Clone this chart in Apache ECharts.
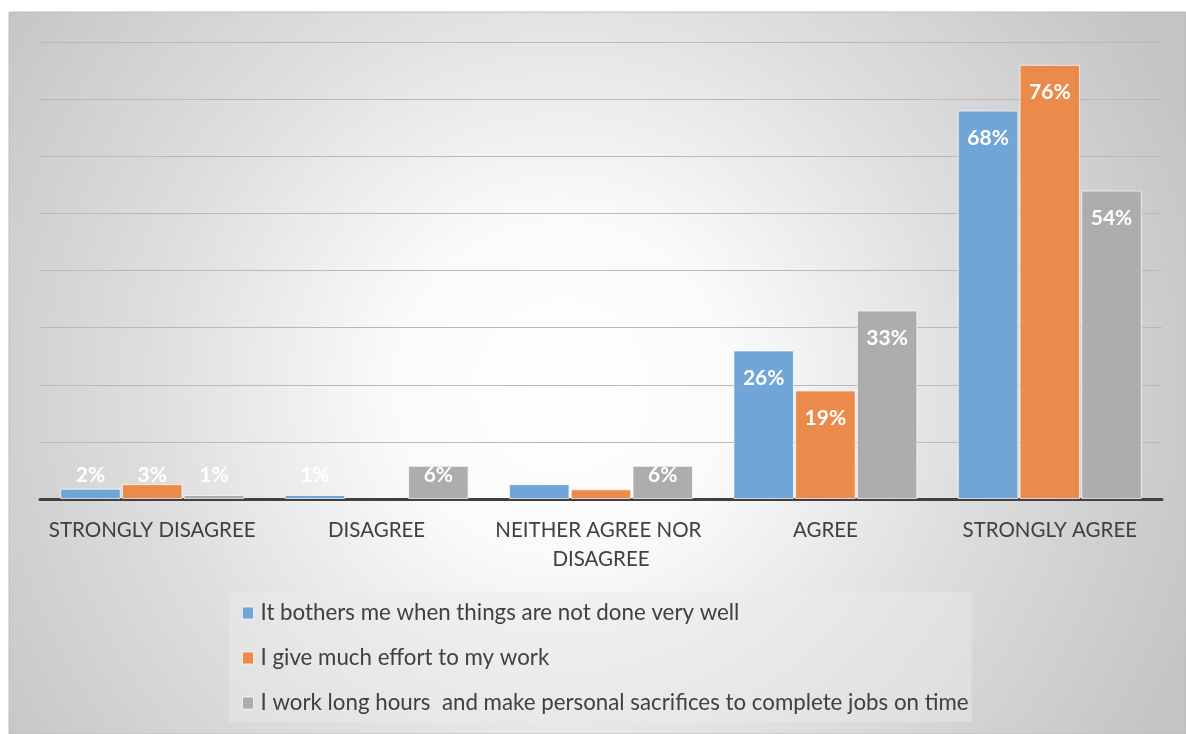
<!DOCTYPE html>
<html>
<head>
<meta charset="utf-8">
<script src="https://cdn.jsdelivr.net/npm/echarts@6/dist/echarts.min.js"></script>
<style>
  html, body { margin: 0; padding: 0; background: #fff; }
  #chart { width: 1186px; height: 734px; }
</style>
</head>
<body>
<div id="chart"></div>
<script>
// categories and series (labels are rounded)
var categories = ['STRONGLY DISAGREE', 'DISAGREE', 'NEITHER AGREE NOR DISAGREE', 'AGREE', 'STRONGLY AGREE'];
var seriesNames = [
  'It bothers me when things are not done very well',
  'I give much effort to my work',
  'I work long hours  and make personal sacrifices to complete jobs on time'
];
var bothersValues = [1.8, 0.7, 2.6, 26, 68];
var effortValues = [2.6, 0, 1.7, 19, 76];
var hoursValues = [0.7, 5.8, 5.8, 33, 54];
// which data labels are missing in the original, per series
var bothersHidden = [2];
var effortHidden = [1, 2];
var hoursHidden = [];
var yTicks = [0, 10, 20, 30, 40, 50, 60, 70, 80];

var colors = ['#6fa5d7', '#eb8b4b', '#adadad'];

var chart = echarts.init(document.getElementById('chart'));

function buildData(values, hidden) {
  return values.map(function (v, i) {
    var item = { value: v };
    if (hidden.indexOf(i) >= 0) {
      item.label = { show: false };
    } else if (v < 10) {
      // small bars: Excel pushes the label up to a fixed height
      item.label = { position: 'insideBottom', distance: 13 };
    }
    if (v === 0) item.itemStyle = { borderWidth: 0 };
    return item;
  });
}

function makeSeries(name, values, hidden, color) {
  return {
    name: name,
    type: 'bar',
    barGap: '2%',
    barCategoryGap: '18%',
    itemStyle: { color: color, borderColor: 'rgba(255,255,255,0.7)', borderWidth: 1 },
    label: {
      show: true,
      position: 'insideTop',
      distance: 17,
      color: '#ffffff',
      fontFamily: 'Lato',
      fontWeight: 'bold',
      fontSize: 21,
      formatter: function (p) { return Math.round(p.value) + '%'; }
    },
    data: buildData(values, hidden)
  };
}

chart.setOption({
  animation: false,
  graphic: [{
    type: 'rect',
    z: -10,
    silent: true,
    shape: { x: 9, y: 12, width: 1177, height: 722 },
    style: {
      stroke: '#bdbdbd',
      lineWidth: 1,
      fill: {
        type: 'radial', x: 0.47, y: 0.52, r: 0.95,
        colorStops: [
          { offset: 0, color: '#ffffff' },
          { offset: 0.25, color: '#fafafa' },
          { offset: 0.6, color: '#dedede' },
          { offset: 1, color: '#c4c4c4' }
        ]
      }
    }
  }],
  grid: { left: 40, right: 24, top: 42, bottom: 235 },
  legend: {
    orient: 'vertical',
    left: 229,
    top: 592,
    padding: [10, 3, 8, 13],
    itemGap: 23,
    itemWidth: 11,
    itemHeight: 12,
    icon: 'rect',
    selectedMode: false,
    backgroundColor: 'rgba(236,236,236,0.45)',
    itemStyle: { borderColor: 'rgba(255,255,255,0.7)', borderWidth: 1 },
    textStyle: { fontFamily: 'Lato', fontSize: 22.3, color: '#404040', lineHeight: 22, padding: [0, 0, 0, 2] },
    data: seriesNames
  },
  xAxis: {
    type: 'category',
    data: categories,
    axisTick: { show: false },
    axisLine: { lineStyle: { color: '#404040', width: 3 } },
    axisLabel: {
      margin: 17,
      fontFamily: 'Lato',
      fontSize: 20.5,
      lineHeight: 29,
      color: '#404040',
      width: 222,
      overflow: 'break',
      interval: 0
    }
  },
  yAxis: {
    type: 'value',
    min: yTicks[0],
    max: yTicks[yTicks.length - 1],
    interval: 10,
    axisLabel: { show: false },
    axisLine: { show: false },
    axisTick: { show: false },
    splitLine: { lineStyle: { color: '#b9b9b9', width: 1 } }
  },
  series: [
    makeSeries(seriesNames[0], bothersValues, bothersHidden, colors[0]),
    makeSeries(seriesNames[1], effortValues, effortHidden, colors[1]),
    makeSeries(seriesNames[2], hoursValues, hoursHidden, colors[2])
  ]
});
</script>
</body>
</html>
